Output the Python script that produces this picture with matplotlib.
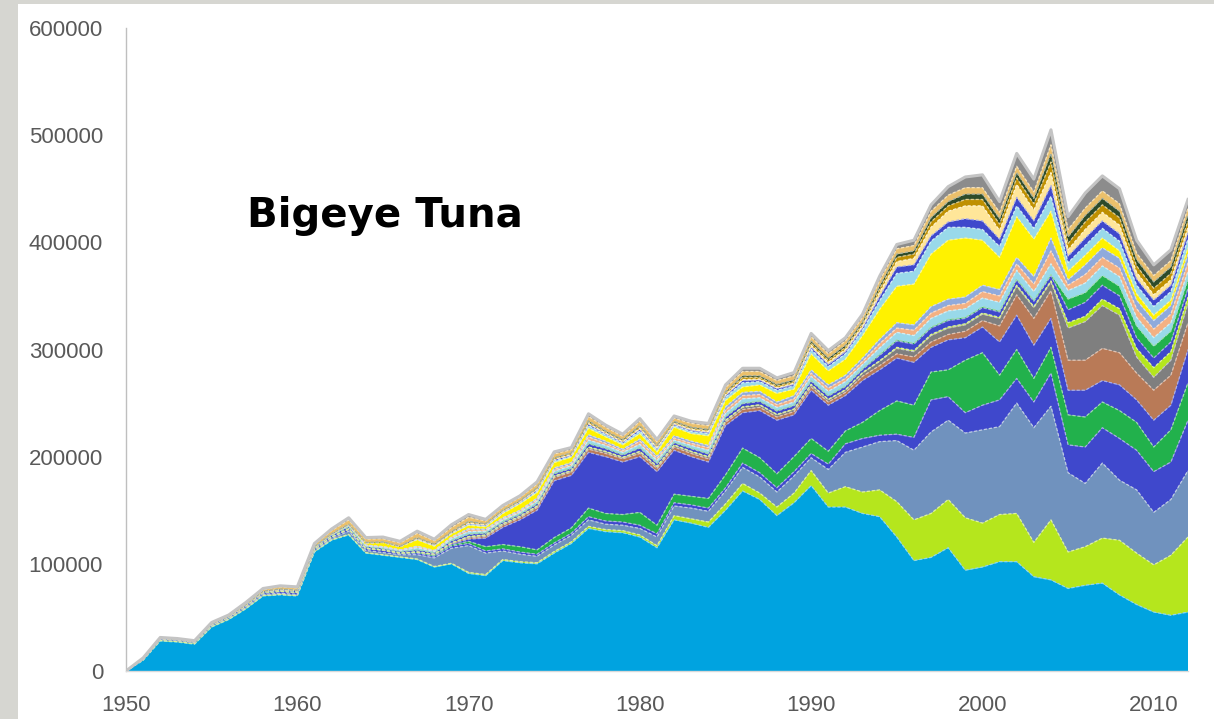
import numpy as np
import matplotlib
matplotlib.use("Agg")
import matplotlib.pyplot as plt
from matplotlib.patches import Rectangle
from matplotlib import colors as mcolors

years = list(range(1950, 2013))

# catches in thousand tonnes, stacked from the bottom layer upward
base = [0,10,28,27,25,41,48,58,70,71, 70,111,122,127,110,108,106,104,97,100,
        91,89,103,101,100,110,119,133,130,129, 125,115,141,138,134,150,168,160,145,157,
        173,153,153,147,144,125,103,106,115,94, 97,102,102,88,85,77,80,82,71,62, 55,52,55]
lime = [0,0.3,0.5,0.5,0.5,0.5,0.5,0.5,0.5,0.5, 0.5,0.5,0.5,0.5,0.5,0.5,0.5,0.5,0.5,0.5,
        1,1,1,1,1,1.5,1.5,2,2,2, 2,2,4,4,5,6,7,6,8,9,
        14,13,19,20,25,33,38,41,45,49, 41,44,45,32,56,34,36,42,51,48, 44,56,70]
greyblue = [0,0.5,1,1,1,1,1,1,1,1, 1,1,1,3,2,2,2,4,8,14,
            25,20,8,7,6,6,6,6,5,5, 6,8,9,10,10,12,15,15,14,16,
            12,22,32,42,45,57,65,76,74,79, 87,82,103,107,106,74,59,70,56,59, 49,52,62]
dark_a = [0,0.3,0.5,0.5,0.3,0.5,0.5,1,1,1.5, 1.5,1,1,1.5,1.5,2,1,1.5,1.5,2,
          2,2,2,2,2,2,2,3,3,3, 3,3,3,3,3,3,4,4,4,4,
          4,5,8,8,6,6,12,30,22,19, 23,25,23,24,31,26,34,33,39,37, 38,35,47]
green_a = [0,0.2,0.3,0.3,0.3,0.3,0.3,0.3,0.5,0.5, 0.5,0.5,0.5,0.5,0.5,0.5,0.5,1,1,1,
           2,4,4,5,4,5,5,8,7,7, 12,8,8,8,9,12,14,14,13,14,
           14,12,12,15,23,31,30,26,25,49, 49,23,27,22,24,28,28,24,26,26, 23,30,35]
dark_b = [0,0,0,0,0,0,0,0,0,0, 0,0,0,0,0,0,0,0,0.5,1,
          2,8,16,25,37,53,49,52,53,49, 52,50,41,37,34,46,33,44,50,39,
          45,43,33,39,38,40,40,23,28,21, 24,31,32,31,27,23,25,20,24,21, 25,23,31]
brown = [0,0,0,0,0,0,0,0,0,0, 0,0,0,0,0,0,0,0,0.5,1,
         1,1.5,2,2,2.5,3,3,3,3,3, 3,3,3,3,3,3,3,3,3,3,
         3,3,3,4,4,4,5,5,5,6, 6,15,19,25,26,28,28,30,30,25, 28,28,25]
grey_mid = [0,0,0,0,0,0,0,0,0,0, 0,0,0,0,0,0,0,0,0,0,
            1,1,1,1,1,1,1,1.5,1.5,1, 1.5,1.5,1.5,1.5,1.5,1.5,2,2,2,2,
            2,2,2,3,4,5,5,6,6,6, 6,7,8,10,8,30,36,40,35,15, 12,14,18]
lime2 = [0,0,0,0,0,0,0,0,0,0, 0,0,0,0,0,0,0,0,0,0,
         0.5,0.5,0.5,0.5,0.5,0.5,0.5,0.5,0.5,0.5, 0.5,0.5,0.5,0.5,0.5,0.5,0.5,0.5,0.5,0.5,
         0.5,0.5,0.5,0.5,0.5,1,1,1,1,1, 1,1,1,1,1,5,5,6,6,8, 9,8,6]
dark_c = [0,0.1,0.1,0.1,0.1,0.3,0.3,0.5,0.5,1, 1,1,1.5,2,1.5,1.5,1.5,2,1.5,2,
          2,1.5,1.5,1.5,2,2,2,3,2.5,2, 3,2.5,2,2.5,2.5,3,3,3,3,3,
          3,3,3,3,5,6,6,6,6,5, 5,5,5,5,5,12,13,13,12,10, 9,9,8]
green_c = [0,0,0,0,0,0,0,0,0,0, 0,0,0,0,0,0,0,0,0,0,
           0.5,0.5,0.5,0.5,0.5,0.5,0.5,0.5,0.5,0.5, 0.5,0.5,0.5,0.5,0.5,0.5,0.5,0.5,0.5,0.5,
           0.5,0.5,0.5,0.5,1,1,1,1,1,1, 1,1,1,1,1,10,9,9,9,11, 11,10,8]
light_blue = [0,0.1,0.1,0.1,0.2,0.2,0.2,0.3,0.5,0.5, 0.5,0.5,1,1.5,1,1,1,2,1,2,
              2,1.5,1.5,1.5,2,2,2,3,2.5,2, 3,2.5,2,2.5,3,3,4,3,3,3,
              4,4,4,4,6,7,7,8,8,8, 8,8,8,8,10,8,9,9,9,8, 8,8,8]
peach = [0,0,0,0,0,0,0,0,0,0, 0,0,0,0.5,0.5,0.5,0.5,1,0.5,1,
         2,1,1,1,1.5,1.5,1.5,3,2,1.5, 3,2,2,2,2.5,3,3,3,2.5,3,
         3,3,3,3,4,4,5,5,5,5, 6,6,6,7,12,5,8,8,8,8, 8,8,8]
steel = [0,0,0,0,0,0,0,0,0,0, 0,0,0,0,0,0,0,0.5,0.5,0.5,
         1,1,1,1,1.5,1.5,1.5,2,2,1.5, 2,2,2,2,2,3,3,3,2.5,3,
         3,3,3,3,4,5,5,6,6,6, 6,6,6,7,12,5,9,9,9,8, 8,8,8]
yellow = [0,0,0,0,0,0,0,0,0,0, 0,0,0,0,2,4,3,6,4,3,
          3,2,4,6,5,5,5,6,4,4, 5,4,8,7,9,6,5,6,8,6,
          15,13,15,21,28,34,38,49,55,55, 42,30,38,35,25,8,9,9,7,6, 5,5,6]
cyan = [0,0,0,0,0,0,0,0,0,0, 0,0,0,0,0,0,0,0.5,0.5,0.5,
        1,1,1,1,1.5,1.5,1,2.5,2,1.5, 2.5,2,1.5,2,2,3,4,3,3,3,
        4,4,5,5,8,12,12,12,12,10, 10,10,10,10,14,8,9,9,9,8, 8,8,8]
dark_d = [0,0,0,0,0,0,0,0,0,0, 0,0,0,0,0,0,0,0.5,0.5,0.5,
          0.5,0.5,0.5,0.5,1,1,1,1.5,1,1, 1.5,1,1,1,1,1.5,2,1.5,1.5,1.5,
          2,2,2,2,4,6,6,5,5,8, 8,7,8,7,10,6,7,7,7,6, 6,6,6]
pale = [0,0,0,0,0,0,0,0,0,0, 0,0,0,0,0,0,0,0,0,0,
        0.5,0.5,0.5,0.5,0.5,0.5,0.5,0.5,0.5,0.5, 1,1,1,1,1,1,1,1,1,1,
        2,2,2,2,4,5,6,8,10,12, 14,8,12,10,12,6,8,8,8,6, 5,5,5]
khaki = [0,0,0,0,0,0,0,0,0,0, 0,0,0,0,0,0,0,0.5,0.5,0.5,
         1,0.5,0.5,0.5,1,1,1,1.5,1,1, 1.5,1,1,1,1,1.5,2,1.5,1.5,1.5,
         2,2,2,2,3,4,4,5,5,6, 6,6,6,6,10,6,7,7,7,6, 6,6,6]
dark_green = [0,0.2,0.3,0.3,0.3,0.3,0.3,0.5,0.5,0.5, 0.5,0.5,0.5,0.5,0.5,0.5,0.5,0.5,0.5,0.5,
              0.5,0.5,0.5,0.5,0.5,0.5,0.5,1,1,1, 1,1,1,1,1,1,1.5,1.5,1.5,1.5,
              2,2,2,2,3,3,3,4,4,5, 5,5,5,5,8,6,6,6,6,6, 6,6,6]
gold = [0,0.3,0.3,0.3,0.4,0.8,0.8,1.2,1.5,2, 2,2,3,4,3,3,3,4,3,4,
        4,2.5,3,3,3.5,3.5,3,4,3.5,3, 4,3.5,3,3.5,3.5,4,4,4,3.5,4,
        4,4,4,4,5,5,5,6,6,6, 6,6,6,6,8,7,7,7,7,6, 6,6,6]
grey_top = [0,0.2,0.2,0.2,0.2,0.4,0.4,0.7,1,1, 1,1,1.5,2,1.5,1.5,1.5,2,1.5,2.5,
            2.5,1.5,1.5,1.5,2,2,2,2.5,2,2, 2.5,2,2,2,2,2.5,3,3,2.5,3,
            3,3,3,3,4,4,5,6,8,10, 12,10,12,12,14,12,14,14,14,12, 10,10,8]

layers = [base, lime, greyblue, dark_a, green_a, dark_b, brown, grey_mid, lime2,
          dark_c, green_c, light_blue, peach, steel, yellow, cyan, dark_d, pale,
          khaki, dark_green, gold, grey_top]
layer_colors = ["#00A3E0", "#B5E61D", "#7092BE", "#3F48CC", "#22B14C", "#3F48CC",
                "#B97A57", "#7F7F7F", "#B5E61D", "#3F48CC", "#22B14C", "#99D9EA",
                "#F4B183", "#8FAADC", "#FFF200", "#99D9EA", "#3F48CC", "#FFE699",
                "#BF9000", "#2D4B2A", "#EBC06B", "#8C8C8C"]

y_ticks = [0, 100000, 200000, 300000, 400000, 500000, 600000]
x_ticks = [1950, 1960, 1970, 1980, 1990, 2000, 2010]

W, H = 1214, 719
fig = plt.figure(figsize=(W / 100, H / 100), dpi=100, facecolor="#D6D6D1")
panel = Rectangle((18 / W, 0), 1 - 18 / W, (H - 4) / H, transform=fig.transFigure,
                  facecolor="white", edgecolor="none", zorder=-10)
fig.add_artist(panel)

ax = fig.add_axes([126 / W, (H - 671) / H, (1188 - 126) / W, (671 - 28) / H])
ax.set_zorder(5)
ax.set_facecolor("none")

x = np.array(years)
data = np.array(layers, dtype=float) * 1000.0
cum = np.vstack([np.zeros(len(years)), np.cumsum(data, axis=0)])

for i, col in enumerate(layer_colors):
    ax.fill_between(x, cum[i], cum[i + 1], facecolor=col, edgecolor="none",
                    linewidth=0, zorder=2)
for i, col in enumerate(layer_colors):
    light = np.array(mcolors.to_rgb(col)) * 0.45 + 0.55
    ax.plot(x, cum[i + 1], color=light, lw=0.9, ls=(0, (2.5, 1.5)), zorder=3)
ax.plot(x, cum[-1], color="#C4C4C4", lw=2.2, zorder=4)

ax.set_xlim(1950, 2012)
ax.set_ylim(0, 600000)
ax.set_yticks(y_ticks)
ax.set_yticklabels([str(v) for v in y_ticks])
ax.set_xticks(x_ticks)
ax.set_xticklabels([str(v) for v in x_ticks])

for s in ["top", "right"]:
    ax.spines[s].set_visible(False)
ax.spines["left"].set_color("#BFBFBF")
ax.spines["left"].set_linewidth(1.0)
ax.spines["bottom"].set_color("#D9D9D9")
ax.spines["bottom"].set_linewidth(1.0)
ax.tick_params(axis="both", length=0, labelcolor="#595959", labelsize=16)
ax.tick_params(axis="y", pad=16.5)
ax.tick_params(axis="x", pad=17)
for lab in ax.get_xticklabels() + ax.get_yticklabels():
    lab.set_fontfamily("Liberation Sans")

fig.text(247 / W, 1 - 216 / H, "Bigeye Tuna", fontsize=29, fontweight="bold",
         family="DejaVu Sans", color="black", va="center", ha="left", zorder=10)

fig.savefig("out.png", dpi=100, facecolor=fig.get_facecolor())
